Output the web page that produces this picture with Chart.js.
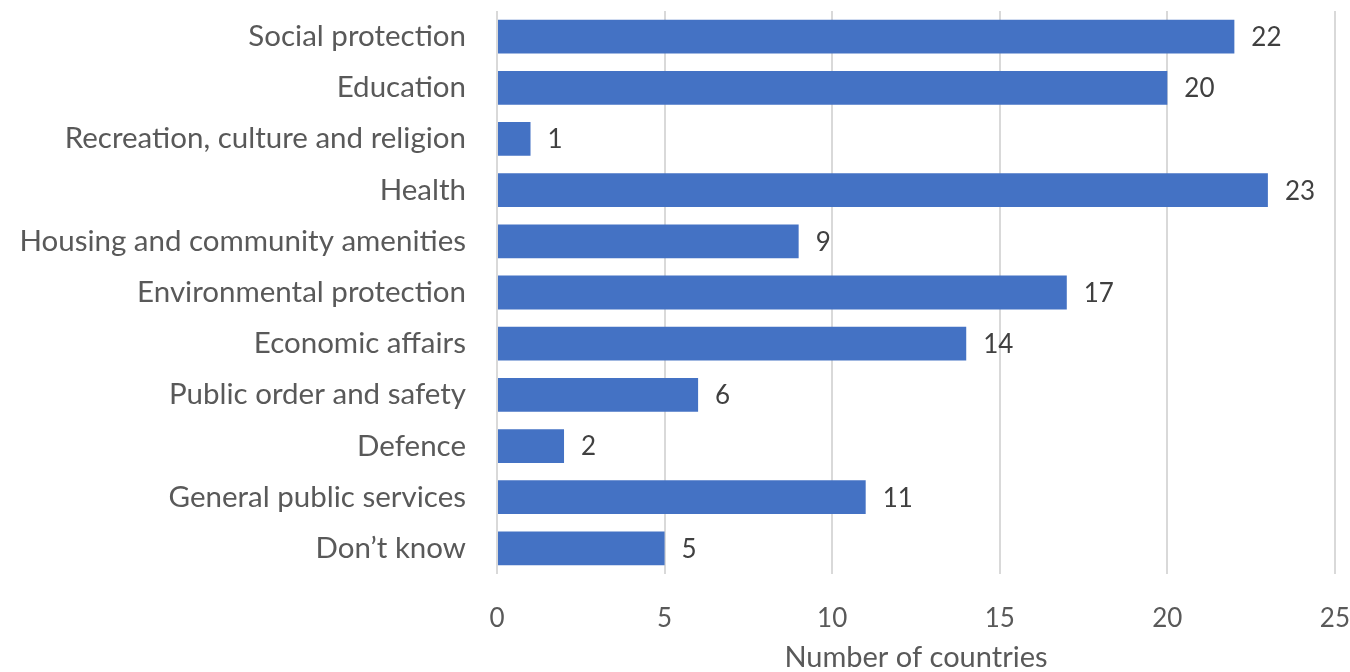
<!DOCTYPE html>
<html>
<head>
<meta charset="utf-8">
<script src="https://cdn.jsdelivr.net/npm/chart.js@4"></script>
<style>
  html, body { margin: 0; padding: 0; background: #fff; }
  #wrap { width: 1350px; height: 672px; }
</style>
</head>
<body>
<div id="wrap"><canvas id="chart"></canvas></div>
<script>
// categories, top to bottom as in the picture
const categories = [
  "Social protection",
  "Education",
  "Recreation, culture and religion",
  "Health",
  "Housing and community amenities",
  "Environmental protection",
  "Economic affairs",
  "Public order and safety",
  "Defence",
  "General public services",
  "Don\u2019t know"
];
const countries = [22, 20, 1, 23, 9, 17, 14, 6, 2, 11, 5];
const xTicks = [0, 5, 10, 15, 20, 25];
const xTitle = "Number of countries";

const FONT = "Lato, 'Open Sans', sans-serif";

// draws the numbers at the end of each bar
const barLabels = {
  id: "barLabels",
  afterDatasetsDraw(chart) {
    const ctx = chart.ctx;
    const meta = chart.getDatasetMeta(0);
    ctx.save();
    ctx.font = "26px " + FONT;
    ctx.fillStyle = "#404040";
    ctx.textAlign = "left";
    ctx.textBaseline = "middle";
    meta.data.forEach((bar, i) => {
      ctx.fillText(String(countries[i]), bar.x + 17, bar.y + 1);
    });
    ctx.restore();
  }
};

new Chart(document.getElementById("chart"), {
  type: "bar",
  data: {
    labels: categories,
    datasets: [{
      data: countries,
      backgroundColor: "#4472c4",
      borderWidth: 0,
      barPercentage: 0.66,
      categoryPercentage: 1.0
    }]
  },
  options: {
    indexAxis: "y",
    responsive: true,
    maintainAspectRatio: false,
    animation: false,
    layout: { padding: { top: 11, right: 15, bottom: 0, left: 0 } },
    plugins: { legend: { display: false }, tooltip: { enabled: false } },
    scales: {
      x: {
        min: 0, max: 25,
        afterBuildTicks(scale) { scale.ticks = xTicks.map(v => ({ value: v })); },
        afterFit(scale) { scale.height = 98; },
        // tick marks are invisible, they only push the labels down
        grid: { color: "#d9d9d9", lineWidth: 2, drawTicks: true, tickLength: 29, tickColor: "rgba(0,0,0,0)" },
        border: { display: false },
        ticks: { padding: 0, color: "#595959", font: { family: FONT, size: 26 } },
        title: { display: true, text: xTitle, color: "#595959", padding: { top: 6, bottom: 0 },
                 font: { family: FONT, size: 29, lineHeight: 1.0 } }
      },
      y: {
        afterFit(scale) { scale.width = 497; },
        grid: { display: false, drawTicks: true, tickLength: 31 },
        border: { display: false },
        ticks: { padding: 0, color: "#595959", font: { family: FONT, size: 29.5, lineHeight: 0.7 } }
      }
    }
  },
  plugins: [barLabels]
});
</script>
</body>
</html>
